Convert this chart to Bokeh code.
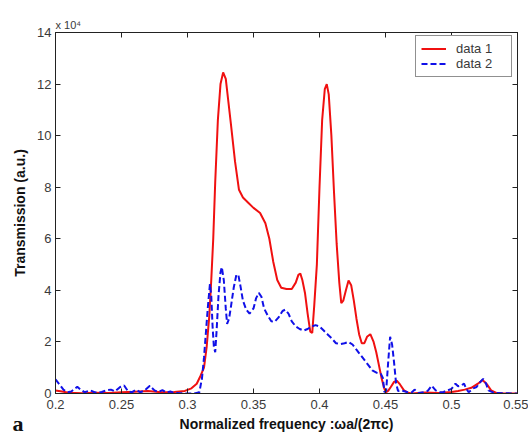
import math
from bokeh.plotting import figure
from bokeh.models import (LinearAxis, FixedTicker, Legend, LegendItem, Range1d, Title)
from bokeh.embed import file_html
from bokeh.resources import INLINE

# ---- data (Transmission in units of 1e4) ----
red_x = [0.200, 0.205, 0.210, 0.220, 0.230, 0.240, 0.250, 0.260, 0.270, 0.280, 0.290, 0.298,
         0.303, 0.307, 0.310, 0.3125, 0.3145, 0.3165, 0.318, 0.3195, 0.321, 0.323, 0.325, 0.327,
         0.329, 0.331, 0.333, 0.336, 0.339, 0.342, 0.346, 0.350, 0.355, 0.359, 0.362, 0.365,
         0.368, 0.371, 0.375, 0.379, 0.382, 0.384, 0.3855, 0.387, 0.389, 0.391, 0.393, 0.3945,
         0.396, 0.398, 0.400, 0.402, 0.404, 0.4055, 0.407, 0.409, 0.411, 0.413, 0.415, 0.4165,
         0.418, 0.420, 0.422, 0.424, 0.426, 0.428, 0.430, 0.432, 0.434, 0.436, 0.4385, 0.441,
         0.443, 0.445, 0.447, 0.449, 0.4505, 0.452, 0.454, 0.4565, 0.4585, 0.461, 0.464, 0.467,
         0.470, 0.480, 0.490, 0.500, 0.505, 0.510, 0.515, 0.520, 0.5235, 0.527, 0.530, 0.534,
         0.540, 0.550]
red_y = [0.12, 0.08, 0.03, 0.01, 0.03, 0.02, 0.05, 0.07, 0.10, 0.05, 0.06, 0.10,
         0.20, 0.38, 0.70, 1.0, 1.8, 3.0, 4.4, 6.0, 8.2, 10.6, 12.0, 12.45,
         12.2, 11.3, 10.4, 9.0, 7.9, 7.6, 7.4, 7.2, 7.0, 6.6, 6.0, 5.1,
         4.4, 4.1, 4.05, 4.05, 4.3, 4.6, 4.65, 4.4, 3.9, 3.1, 2.4, 2.35,
         3.4, 5.0, 8.0, 10.6, 11.8, 12.0, 11.6, 10.0, 7.8, 5.8, 4.3, 3.5,
         3.6, 4.0, 4.38, 4.2, 3.6, 2.9, 2.3, 1.95, 1.95, 2.2, 2.3, 2.0,
         1.6, 1.1, 0.6, 0.2, 0.05, 0.1, 0.25, 0.45, 0.5, 0.35, 0.12, 0.03,
         0.0, 0.04, 0.02, 0.06, 0.1, 0.15, 0.22, 0.38, 0.52, 0.35, 0.12, 0.02,
         0.0, 0.0]

blue_x = [0.200, 0.203, 0.206, 0.209, 0.212, 0.2165, 0.219, 0.222, 0.2265, 0.230, 0.235, 0.2385,
          0.242, 0.245, 0.249, 0.252, 0.255, 0.258, 0.261, 0.264, 0.267, 0.2715, 0.275, 0.278,
          0.281, 0.284, 0.287, 0.290, 0.295, 0.300, 0.305, 0.309, 0.311, 0.3125, 0.314, 0.3155,
          0.317, 0.318, 0.319, 0.320, 0.321, 0.322, 0.3235, 0.325, 0.326, 0.3275, 0.329, 0.330,
          0.3315, 0.333, 0.335, 0.337, 0.3385, 0.340, 0.342, 0.3445, 0.347, 0.350, 0.352, 0.354,
          0.356, 0.358, 0.361, 0.3635, 0.366, 0.369, 0.372, 0.374, 0.3765, 0.379, 0.382, 0.385,
          0.388, 0.391, 0.394, 0.397, 0.400, 0.403, 0.406, 0.409, 0.4125, 0.416, 0.419, 0.422,
          0.425, 0.428, 0.431, 0.434, 0.437, 0.440, 0.4435, 0.4465, 0.448, 0.4492, 0.4505, 0.452,
          0.4535, 0.455, 0.4565, 0.458, 0.4595, 0.4615, 0.465, 0.468, 0.470, 0.472, 0.475, 0.479,
          0.482, 0.485, 0.488, 0.491, 0.494, 0.497, 0.500, 0.503, 0.505, 0.507, 0.5095, 0.511,
          0.513, 0.5165, 0.519, 0.521, 0.524, 0.526, 0.528, 0.531, 0.533, 0.540, 0.550]
blue_y = [0.55, 0.35, 0.15, 0.05, 0.08, 0.26, 0.15, 0.05, 0.12, 0.04, 0.06, 0.12,
          0.15, 0.08, 0.25, 0.31, 0.08, 0.05, 0.15, 0.05, 0.10, 0.30, 0.12, 0.06,
          0.13, 0.04, 0.08, 0.02, 0.01, 0.0, 0.0, 0.05, 0.6, 1.4, 2.4, 3.4,
          4.25, 3.8, 2.6, 1.8, 1.6, 2.4, 3.8, 4.7, 4.9, 4.4, 3.3, 2.7,
          2.9, 3.4, 4.1, 4.6, 4.6, 4.2, 3.6, 3.25, 3.1, 3.3, 3.7, 3.9,
          3.75, 3.3, 3.0, 2.8, 2.78, 2.95, 3.2, 3.25, 3.1, 2.8, 2.6, 2.5,
          2.44, 2.5, 2.6, 2.65, 2.6, 2.45, 2.3, 2.15, 1.95, 1.92, 1.95, 2.0,
          1.9, 1.7, 1.5, 1.3, 1.1, 0.9, 0.8, 0.76, 0.6, 0.05, 0.1, 1.2,
          2.2, 1.9, 1.2, 0.4, 0.1, 0.12, 0.08, 0.03, 0.05, 0.15, 0.02, 0.05,
          0.1, 0.3, 0.12, 0.05, 0.06, 0.12, 0.18, 0.38, 0.28, 0.3, 0.38, 0.2,
          0.05, 0.2, 0.25, 0.4, 0.57, 0.4, 0.12, 0.05, 0.02, 0.01, 0.0]

x_ticks = [0.2, 0.25, 0.3, 0.35, 0.4, 0.45, 0.5, 0.55]
x_tick_labels = ["0.2", "0.25", "0.3", "0.35", "0.4", "0.45", "0.5", "0.55"]
y_ticks = [0, 2, 4, 6, 8, 10, 12, 14]
y_tick_labels = ["0", "2", "4", "6", "8", "10", "12", "14"]
series_names = ["data 1", "data 2"]
x_title = "Normalized frequency :\u03c9a/(2\u03c0c)"
y_title = "Transmission (a.u.)"
scale_note = "x 10\u2074"
panel_tag = "a"

FONT = "Liberation Sans"
AXC = "#222222"
TXC = "#3a3a3a"

p = figure(width=528, height=437, output_backend="svg", toolbar_location=None,
           x_range=Range1d(0.2, 0.55), y_range=Range1d(0, 14),
           min_border_left=55, min_border_right=11, min_border_top=32, min_border_bottom=44)
p.xgrid.visible = False
p.ygrid.visible = False
p.outline_line_color = AXC
p.outline_line_width = 1
p.background_fill_color = "white"
p.border_fill_color = "white"

def style_axis(ax, ticks, labels, show_labels=True):
    ax.ticker = FixedTicker(ticks=ticks)
    ax.major_tick_in = 5
    ax.major_tick_out = 0
    ax.minor_tick_line_color = None
    ax.axis_line_color = AXC
    ax.major_tick_line_color = AXC
    if show_labels:
        ax.major_label_overrides = {t: l for t, l in zip(ticks, labels)}
        ax.major_label_text_font = FONT
        ax.major_label_text_color = TXC
        ax.major_label_text_font_size = "13px"
    else:
        ax.major_label_text_color = None
        ax.major_label_text_font_size = "1px"
        ax.major_label_standoff = 0

style_axis(p.xaxis[0], x_ticks, x_tick_labels)
p.xaxis[0].major_label_standoff = 6
p.xaxis[0].axis_label = x_title
p.xaxis[0].axis_label_standoff = 4
p.xaxis[0].axis_label_text_font = FONT
p.xaxis[0].axis_label_text_font_size = "14px"
p.xaxis[0].axis_label_text_font_style = "bold"
p.xaxis[0].axis_label_text_color = "#111111"

style_axis(p.yaxis[0], y_ticks, y_tick_labels)
p.yaxis[0].major_label_standoff = 4
p.yaxis[0].axis_label = y_title
p.yaxis[0].axis_label_standoff = 6
p.yaxis[0].axis_label_text_font = FONT
p.yaxis[0].axis_label_text_font_size = "14px"
p.yaxis[0].axis_label_text_font_style = "bold"
p.yaxis[0].axis_label_text_color = "#111111"

top_ax = LinearAxis()
style_axis(top_ax, x_ticks, x_tick_labels, show_labels=False)
p.add_layout(top_ax, "above")
right_ax = LinearAxis()
style_axis(right_ax, y_ticks, y_tick_labels, show_labels=False)
p.add_layout(right_ax, "right")

p.add_layout(Title(text=scale_note, align="left", text_font=FONT, text_font_size="11px",
                   text_font_style="normal", text_color=TXC, standoff=4, offset=0), "above")

# panel tag "a" at the lower-left corner (side-panel title, pulled up by a negative standoff)
p.add_layout(Title(text=panel_tag, align="left", vertical_align="top", offset=-43,
                   standoff=-48, text_font="Liberation Serif", text_font_size="22px",
                   text_font_style="bold", text_color="#111111"), "below")

r1 = p.line(red_x, red_y, line_color="#f01010", line_width=2)
r2 = p.line(blue_x, blue_y, line_color="#1010e8", line_width=2, line_dash="6 3")

legend = Legend(items=[LegendItem(label=series_names[0], renderers=[r1]),
                       LegendItem(label=series_names[1], renderers=[r2])],
                location=(360, 316), margin=0, padding=5, spacing=0,
                glyph_width=25, glyph_height=15, label_height=15, label_width=50,
                label_standoff=10, label_text_font=FONT, label_text_font_size="13px",
                label_text_color=TXC, border_line_color=AXC, border_line_width=1,
                background_fill_color="white", background_fill_alpha=1.0)
p.add_layout(legend, "center")

open("out.html", "w").write(file_html(p, INLINE))
